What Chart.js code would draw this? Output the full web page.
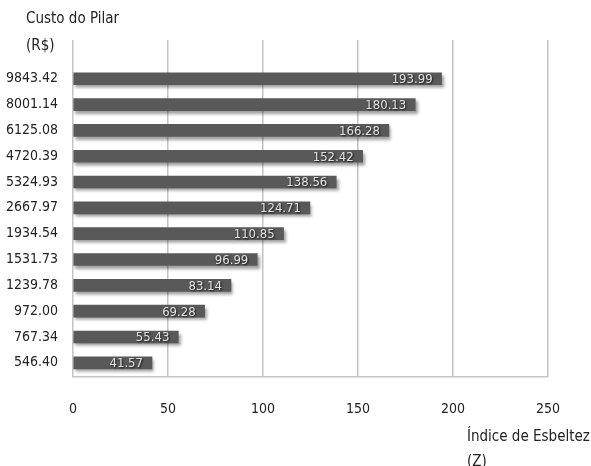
<!DOCTYPE html>
<html>
<head>
<meta charset="utf-8">
<script src="https://cdn.jsdelivr.net/npm/chart.js@4/dist/chart.umd.min.js"></script>
<style>
  html, body { margin: 0; padding: 0; background: #ffffff; }
  #wrap { position: relative; width: 591px; height: 466px; }
</style>
</head>
<body>
<div id="wrap"><canvas id="c" width="591" height="466"></canvas></div>
<script>
// Pillar cost (R$) per row, top to bottom
const custos = ['9843.42', '8001.14', '6125.08', '4720.39', '5324.93', '2667.97',
                '1934.54', '1531.73', '1239.78', '972.00', '767.34', '546.40'];
// Slenderness index for each row, same order
const esbeltez = [193.99, 180.13, 166.28, 152.42, 138.56, 124.71,
                  110.85, 96.99, 83.14, 69.28, 55.43, 41.57];
// Horizontal axis ticks
const xTicks = [0, 50, 100, 150, 200, 250];

const FONT = '"DejaVu Sans Condensed", "Liberation Sans Narrow", sans-serif';
const TEXT = '#222222';
const n = custos.length;
// row i drawn at position n-1-i so the first row sits on top
const points = esbeltez.map((v, i) => ({ x: v, y: n - 1 - i }));

const barShadow = {
  id: 'barShadow',
  beforeDatasetsDraw(chart) {
    const ctx = chart.ctx;
    ctx.save();
    ctx.shadowColor = 'rgba(0,0,0,0.38)';
    ctx.shadowBlur = 3;
    ctx.shadowOffsetX = 2;
    ctx.shadowOffsetY = 3;
  },
  afterDatasetsDraw(chart) {
    chart.ctx.restore();
  }
};

const valueLabels = {
  id: 'valueLabels',
  afterDatasetsDraw(chart) {
    const ctx = chart.ctx;
    const meta = chart.getDatasetMeta(0);
    ctx.save();
    ctx.font = '13px ' + FONT;
    ctx.textAlign = 'right';
    ctx.textBaseline = 'middle';
    meta.data.forEach((bar, i) => {
      const txt = esbeltez[i].toFixed(2);
      const x = bar.x - 9;
      const y = bar.y + 1;
      ctx.shadowColor = 'rgba(0,0,0,0.8)';
      ctx.shadowBlur = 2;
      ctx.shadowOffsetX = 1;
      ctx.shadowOffsetY = 1;
      ctx.fillStyle = '#e2e2e2';
      ctx.fillText(txt, x, y);
    });
    ctx.restore();
  }
};

const axisTitles = {
  id: 'axisTitles',
  afterDraw(chart) {
    const ctx = chart.ctx;
    ctx.save();
    ctx.font = '15px ' + FONT;
    ctx.fillStyle = TEXT;
    ctx.textAlign = 'left';
    ctx.textBaseline = 'middle';
    ctx.fillText('Custo do Pilar', 26, 19);
    ctx.fillText('(R$)', 26, 46);
    ctx.fillText('Índice de Esbeltez', 467, 437);
    ctx.fillText('(Z)', 467, 462);
    ctx.restore();
  }
};

new Chart(document.getElementById('c'), {
  type: 'bar',
  data: {
    datasets: [{
      data: points,
      backgroundColor: '#595959',
      borderWidth: 0,
      barThickness: 12
    }]
  },
  options: {
    indexAxis: 'y',
    responsive: false,
    animation: false,
    devicePixelRatio: 1,
    layout: { padding: { top: 40, right: 43, left: 0, bottom: 0 } },
    plugins: { legend: { display: false }, tooltip: { enabled: false } },
    scales: {
      x: {
        type: 'linear',
        min: 0,
        max: 250,
        afterBuildTicks: s => { s.ticks = xTicks.map(v => ({ value: v })); },
        afterFit: s => { s.height = 89; },
        grid: { color: '#c4c4c4', lineWidth: 1.5, drawTicks: false },
        border: { color: '#c4c4c4', width: 1.5 },
        ticks: { font: { family: FONT, size: 14 }, color: TEXT, padding: 24, maxRotation: 0 }
      },
      y: {
        type: 'linear',
        offset: false,
        min: -0.55,
        max: 12.5,
        afterBuildTicks: s => { s.ticks = custos.map((_, i) => ({ value: i })); },
        afterFit: s => { s.width = 73; },
        grid: { display: false, drawTicks: false, offset: false },
        border: { display: false },
        ticks: {
          font: { family: FONT, size: 14 },
          color: TEXT,
          padding: 15,
          callback: v => custos[n - 1 - v]
        }
      }
    }
  },
  plugins: [barShadow, valueLabels, axisTitles]
});
</script>
</body>
</html>
